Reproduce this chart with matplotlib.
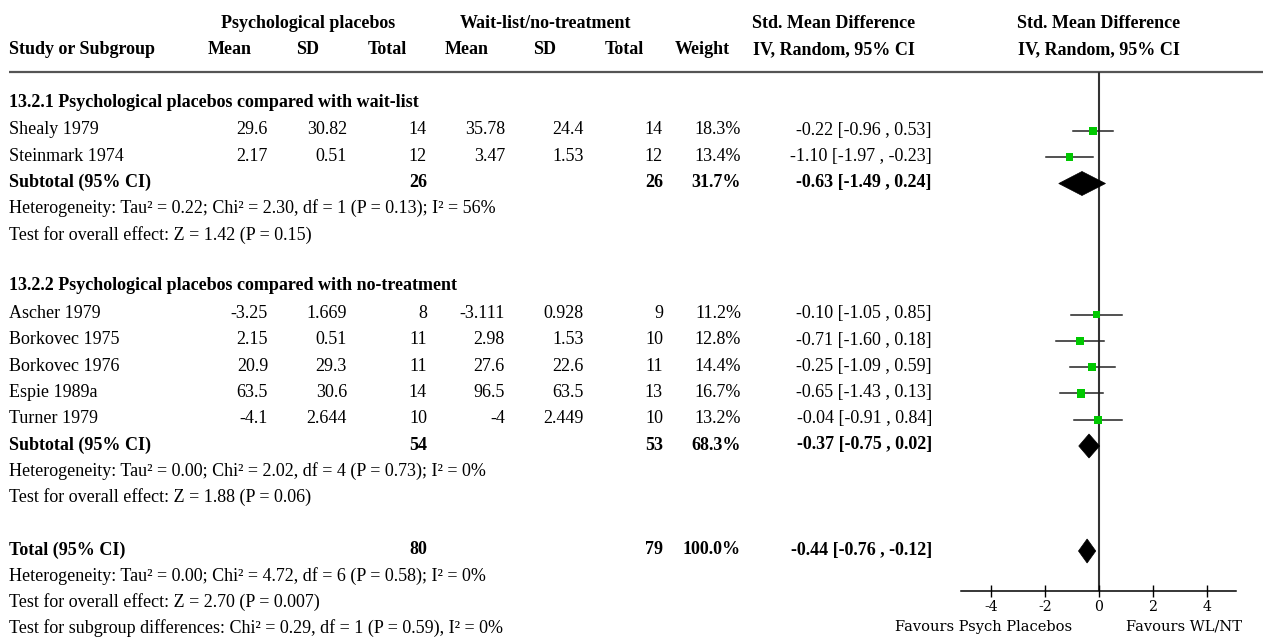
import matplotlib
matplotlib.use("Agg")
import matplotlib.pyplot as plt
from matplotlib.patches import Polygon
from matplotlib.transforms import blended_transform_factory

# ---- data -------------------------------------------------------------
studies = ["Shealy 1979", "Steinmark 1974", "Ascher 1979", "Borkovec 1975",
           "Borkovec 1976", "Espie 1989a", "Turner 1979"]
pp_mean = ["29.6", "2.17", "-3.25", "2.15", "20.9", "63.5", "-4.1"]
pp_sd = ["30.82", "0.51", "1.669", "0.51", "29.3", "30.6", "2.644"]
pp_n = [14, 12, 8, 11, 11, 14, 10]
wl_mean = ["35.78", "3.47", "-3.111", "2.98", "27.6", "96.5", "-4"]
wl_sd = ["24.4", "1.53", "0.928", "1.53", "22.6", "63.5", "2.449"]
wl_n = [14, 12, 9, 10, 11, 13, 10]
weights = [18.3, 13.4, 11.2, 12.8, 14.4, 16.7, 13.2]
smd = [-0.22, -1.10, -0.10, -0.71, -0.25, -0.65, -0.04]
ci_lo = [-0.96, -1.97, -1.05, -1.60, -1.09, -1.43, -0.91]
ci_hi = [0.53, -0.23, 0.85, 0.18, 0.59, 0.13, 0.84]
study_rows = [0, 1, 7, 8, 9, 10, 11]

# pooled results: subgroup 1, subgroup 2, overall
pooled_labels = ["Subtotal (95% CI)", "Subtotal (95% CI)", "Total (95% CI)"]
pooled_rows = [2, 12, 16]
pooled_pp_n = [26, 54, 80]
pooled_wl_n = [26, 53, 79]
pooled_weight = ["31.7%", "68.3%", "100.0%"]
pooled_smd = [-0.63, -0.37, -0.44]
pooled_lo = [-1.49, -0.75, -0.76]
pooled_hi = [0.24, 0.02, -0.12]

group_titles = ["13.2.1 Psychological placebos compared with wait-list",
                "13.2.2 Psychological placebos compared with no-treatment"]
group_rows = [-1, 6]

note_rows = [3, 4, 13, 14, 17, 18, 19]
notes = [
    "Heterogeneity: Tau\u00b2 = 0.22; Chi\u00b2 = 2.30, df = 1 (P = 0.13); I\u00b2 = 56%",
    "Test for overall effect: Z = 1.42 (P = 0.15)",
    "Heterogeneity: Tau\u00b2 = 0.00; Chi\u00b2 = 2.02, df = 4 (P = 0.73); I\u00b2 = 0%",
    "Test for overall effect: Z = 1.88 (P = 0.06)",
    "Heterogeneity: Tau\u00b2 = 0.00; Chi\u00b2 = 4.72, df = 6 (P = 0.58); I\u00b2 = 0%",
    "Test for overall effect: Z = 2.70 (P = 0.007)",
    "Test for subgroup differences: Chi\u00b2 = 0.29, df = 1 (P = 0.59), I\u00b2 = 0%",
]

x_ticks = [-4, -2, 0, 2, 4]
favours_left = "Favours Psych Placebos"
favours_right = "Favours WL/NT"

# ---- layout -----------------------------------------------------------
W, H = 1263, 637
FONT = "Liberation Serif"
FS = 13.0
ROW0_MARK = 131.0      # pixel y of first study marker
ROW0_TEXT = 134.5      # pixel y of first study text baseline
ROW_H = 26.25

def ytext(r):
    return ROW0_TEXT + r * ROW_H

fig = plt.figure(figsize=(W / 100, H / 100), dpi=100)
tab = fig.add_axes([0, 0, 1, 1])
tab.set_xlim(0, W)
tab.set_ylim(H, 0)
tab.axis("off")

def put(x, y, s, ha="left", bold=False, size=FS):
    tab.text(x, y, s, ha=ha, va="baseline", fontsize=size,
             fontweight="bold" if bold else "normal", family=FONT)

# column header
hdr1, hdr2 = 28, 54
put(308, hdr1, "Psychological placebos", ha="center", bold=True)
put(545, hdr1, "Wait-list/no-treatment", ha="center", bold=True)
put(834, hdr1, "Std. Mean Difference", ha="center", bold=True)
put(1099, hdr1, "Std. Mean Difference", ha="center", bold=True)
put(9, hdr2, "Study or Subgroup", bold=True)
for cx, lab in [(230, "Mean"), (308, "SD"), (387, "Total"), (467, "Mean"),
                (545, "SD"), (624, "Total"), (702, "Weight"),
                (834, "IV, Random, 95% CI"), (1099, "IV, Random, 95% CI")]:
    put(cx, hdr2, lab, ha="center", bold=True)
tab.plot([9, W], [72, 72], color="#555555", lw=1.6, solid_capstyle="butt")

# right edges of numeric columns
C_M1, C_SD1, C_N1, C_M2, C_SD2, C_N2, C_W, C_CI = 268, 347, 427, 505, 584, 663, 741, 932

for r, t in zip(group_rows, group_titles):
    put(9, ytext(r) - 1.5, t, bold=True)

for i, r in enumerate(study_rows):
    y = ytext(r)
    put(9, y, studies[i])
    put(C_M1, y, pp_mean[i], ha="right")
    put(C_SD1, y, pp_sd[i], ha="right")
    put(C_N1, y, str(pp_n[i]), ha="right")
    put(C_M2, y, wl_mean[i], ha="right")
    put(C_SD2, y, wl_sd[i], ha="right")
    put(C_N2, y, str(wl_n[i]), ha="right")
    put(C_W, y, f"{weights[i]:.1f}%", ha="right")
    put(C_CI, y, f"{smd[i]:.2f} [{ci_lo[i]:.2f} , {ci_hi[i]:.2f}]", ha="right")

for i, r in enumerate(pooled_rows):
    y = ytext(r)
    put(9, y, pooled_labels[i], bold=True)
    put(C_N1, y, str(pooled_pp_n[i]), ha="right", bold=True)
    put(C_N2, y, str(pooled_wl_n[i]), ha="right", bold=True)
    put(C_W, y, pooled_weight[i], ha="right", bold=True)
    put(C_CI, y, f"{pooled_smd[i]:.2f} [{pooled_lo[i]:.2f} , {pooled_hi[i]:.2f}]",
        ha="right", bold=True)

for r, s in zip(note_rows, notes):
    put(9, ytext(r), s)

# ---- forest panel -----------------------------------------------------
PX_ZERO, PX_UNIT = 1099.0, 27.0
ax_l, ax_r = 961.0, 1236.0
ax_top, ax_bot = 72.0, 590.7
ax = fig.add_axes([ax_l / W, 1 - ax_bot / H, (ax_r - ax_l) / W, (ax_bot - ax_top) / H])
ax.set_xlim((ax_l - PX_ZERO) / PX_UNIT, (ax_r - PX_ZERO) / PX_UNIT)
ax.set_ylim((ax_bot - ROW0_MARK) / ROW_H, (ax_top - ROW0_MARK) / ROW_H)
ax.patch.set_alpha(0)
for side in ("left", "right", "top"):
    ax.spines[side].set_visible(False)
ax.spines["bottom"].set_linewidth(1.1)
ax.set_yticks([])
ax.set_xticks(x_ticks)
ax.set_xticklabels([str(t) for t in x_ticks], family="DejaVu Serif", fontsize=10.2)
ax.tick_params(axis="x", direction="inout", length=8, width=1.0, pad=3)

ax.axvline(0, color="#333333", lw=1.5, zorder=1)

for i, r in enumerate(study_rows):
    ax.plot([ci_lo[i], ci_hi[i]], [r, r], color="#222222", lw=1.1, zorder=2)
    side_px = 8.3 * (weights[i] / 18.3) ** 0.3
    ax.scatter([smd[i]], [r], marker="s", s=(side_px * 0.72) ** 2,
               color="#00c800", edgecolors="none", zorder=3)

half_h = 12.0 / ROW_H
for i, r in enumerate(pooled_rows):
    ax.add_patch(Polygon([(pooled_lo[i], r), (pooled_smd[i], r - half_h),
                          (pooled_hi[i], r), (pooled_smd[i], r + half_h)],
                         closed=True, facecolor="black", edgecolor="black",
                         lw=0.5, zorder=3))

trans = blended_transform_factory(ax.transData, tab.transData)
ax.text(-1.0, 630.5, favours_left, transform=trans, ha="right", va="baseline",
        family="DejaVu Serif", fontsize=10.5)
ax.text(1.0, 630.5, favours_right, transform=trans, ha="left", va="baseline",
        family="DejaVu Serif", fontsize=10.5)

fig.savefig("out.png", dpi=100)
